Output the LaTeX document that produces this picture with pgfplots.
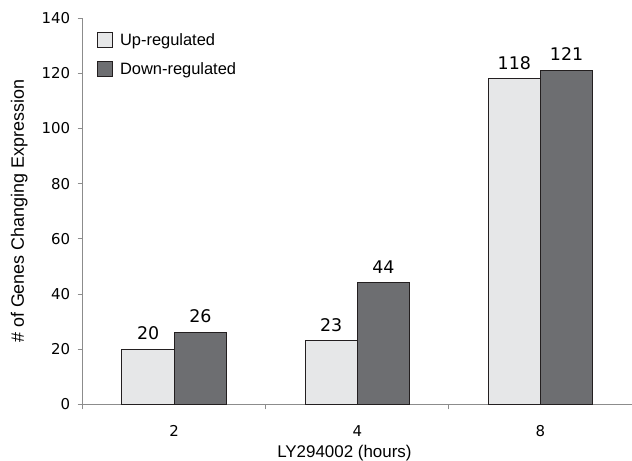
\documentclass[border=0pt]{standalone}
\usepackage{fontspec}
\setmainfont{Liberation Sans}
\newfontfamily\dejavu{DejaVu Sans}
\usepackage{pgfplots}
\pgfplotsset{compat=1.18}
\definecolor{uplight}{HTML}{E6E7E8}
\definecolor{downdark}{HTML}{6D6E71}
\definecolor{axgray}{HTML}{8C8C8C}
\definecolor{edge}{HTML}{231F20}
\begin{document}
\begin{tikzpicture}
\begin{axis}[
  name=ax,
  scale only axis,
  width=549.3bp, height=386.1bp,
  xmin=-0.5, xmax=2.5,
  ymin=0, ymax=140,
  clip=false,
  axis x line=bottom, axis y line=left,
  axis line style={-, axgray, line width=0.9bp},
  ytick={0,20,...,140},
  xtick={-0.5,0.5,1.5,2.5},
  xticklabels={},
  extra x ticks={0,1,2},
  extra x tick labels={2,4,8},
  extra x tick style={major tick length=0pt},
  tick align=outside,
  major tick length=5bp,
  every tick/.style={axgray, line width=0.9bp},
  /pgf/number format/assume math mode=true,
  yticklabel style={font=\dejavu\fontsize{15}{15}\selectfont, anchor=east, xshift=-4bp},
  xticklabel style={font=\dejavu\fontsize{15}{15}\selectfont, anchor=base, yshift=-32.4bp},
  xlabel={LY294002 (hours)},
  ylabel={\# of Genes Changing Expression},
  every axis x label/.style={at={([yshift=-53.2bp]rel axis cs:0.4765,0)}, anchor=base, font=\fontsize{17}{17}\selectfont},
  every axis y label/.style={at={([xshift=-63.5bp]rel axis cs:0,0.5)}, rotate=90, anchor=center, font=\fontsize{18}{18}\selectfont},
  legend style={at={(rel axis cs:0.026,0.967)}, anchor=north west, draw=none, fill=none,
    font=\fontsize{16.5}{16.5}\selectfont, row sep=12bp, inner sep=0pt,
    /tikz/every odd column/.append style={column sep=5bp}},
  legend cell align=left,
  legend image code/.code={\draw[#1, line width=0.9bp] (0bp,-7.5bp) rectangle (15bp,7.5bp);},
  every node near coord/.append style={font=\dejavu\fontsize{17.5}{17.5}\selectfont, anchor=base, yshift=9.6bp, text=black},
]
\addplot[ybar, bar width=52.3bp, bar shift=-26.15bp, fill=uplight, draw=edge, line width=1bp, nodes near coords,
  every node near coord/.append style={xshift=-26.15bp}]
  coordinates {(0,20) (1,23) (2,118)};
\addplot[ybar, bar width=52.3bp, bar shift=26.15bp, fill=downdark, draw=edge, line width=1bp, nodes near coords,
  every node near coord/.append style={xshift=26.15bp}]
  coordinates {(0,26) (1,44) (2,121)};
\legend{Up-regulated, Down-regulated}
\end{axis}
\pgfresetboundingbox
\path[use as bounding box] ([shift={(-82.7bp,-56.7bp)}]ax.south west) rectangle ([shift={(0bp,18.2bp)}]ax.north east);
\end{tikzpicture}
\end{document}
